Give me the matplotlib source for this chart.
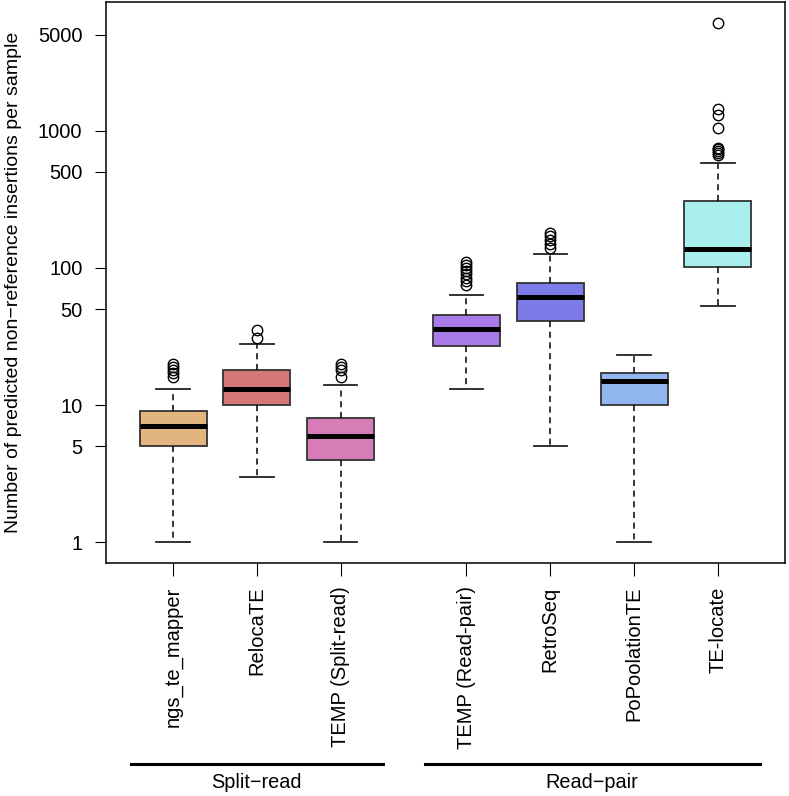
import numpy as np
import matplotlib.pyplot as plt
from matplotlib.transforms import blended_transform_factory

plt.rcParams['font.family'] = ['Liberation Sans', 'DejaVu Sans']

# method names and positions (gap between the two groups)
methods = ['ngs_te_mapper', 'RelocaTE', 'TEMP (Split-read)',
           'TEMP (Read-pair)', 'RetroSeq', 'PoPoolationTE', 'TE-locate']
positions = [1, 2, 3, 4.5, 5.5, 6.5, 7.5]
colors = ['#E2B57F', '#D77878', '#D67CB6', '#A87BE8', '#7D7BE9', '#91B5EE', '#A9EFEE']

# box statistics
whislo = [1, 3, 1, 13, 5, 1, 53]
q1 = [5, 10, 4, 27, 41, 10, 102]
med = [7, 13, 6, 36, 61, 15, 137]
q3 = [9, 18, 8, 45, 78, 17, 307]
whishi = [13, 28, 14, 63, 126, 23, 578]
fliers = [
    [16, 17, 18, 19, 20],
    [31, 35],
    [16, 18, 19, 20],
    [75, 80, 85, 90, 95, 100, 105, 110],
    [140, 150, 160, 170, 180],
    [],
    [670, 690, 710, 730, 750, 1050, 1300, 1430, 6100],
]

groups = ['Split\u2212read', 'Read\u2212pair']
group_spans = [(0.5, 3.5), (4.0, 8.0)]

fig = plt.figure(figsize=(7.89, 7.96), dpi=100)
ax = fig.add_axes([106/789, 1 - 562.7/796, (785-106)/789, (562.7-2)/796])

stats = []
for i in range(len(methods)):
    stats.append(dict(whislo=whislo[i], q1=q1[i], med=med[i], q3=q3[i],
                      whishi=whishi[i], fliers=fliers[i], label=methods[i]))

bp = ax.bxp(stats, positions=positions, widths=0.8, capwidths=0.4,
            patch_artist=True,
            boxprops=dict(edgecolor='#333333', linewidth=1.3),
            medianprops=dict(color='black', linewidth=3.6, solid_capstyle='butt'),
            whiskerprops=dict(color='black', linewidth=1.1, linestyle=(0, (4, 3))),
            capprops=dict(color='#222222', linewidth=1.3),
            flierprops=dict(marker='o', markerfacecolor='none', markeredgecolor='black',
                            markersize=7.5, markeredgewidth=1.0))
for patch, c in zip(bp['boxes'], colors):
    patch.set_facecolor(c)

ax.set_yscale('log')
ax.set_ylim(10**-0.149, 10**3.938)
ax.set_xlim(0.2, 8.3)
yt = [1, 5, 10, 50, 100, 500, 1000, 5000]
ax.set_yticks(yt)
ax.set_yticklabels([str(v) for v in yt])
ax.yaxis.set_minor_locator(plt.NullLocator())
ax.tick_params(axis='y', labelsize=14.5, length=8, pad=9)
ax.tick_params(axis='x', labelsize=14.5, length=9, pad=8, labelrotation=90)
ax.set_xticks(positions)
ax.set_xticklabels(methods)
for sp in ax.spines.values():
    sp.set_linewidth(1.1)

ax.set_ylabel('Number of predicted non\u2212reference insertions per sample',
              fontsize=14, va='center')
ax.yaxis.set_label_coords(-0.1355, 0.5)

# group bars under the labels
tr = blended_transform_factory(ax.transData, fig.transFigure)
for name, (a, b) in zip(groups, group_spans):
    ax.plot([a, b], [1 - 764.3/796] * 2, color='black', linewidth=2.2,
            transform=tr, clip_on=False)
    ax.text((a + b) / 2, 1 - 783/796, name, transform=tr, ha='center', va='center',
            fontsize=14.3)

fig.savefig('out.png', dpi=100)
